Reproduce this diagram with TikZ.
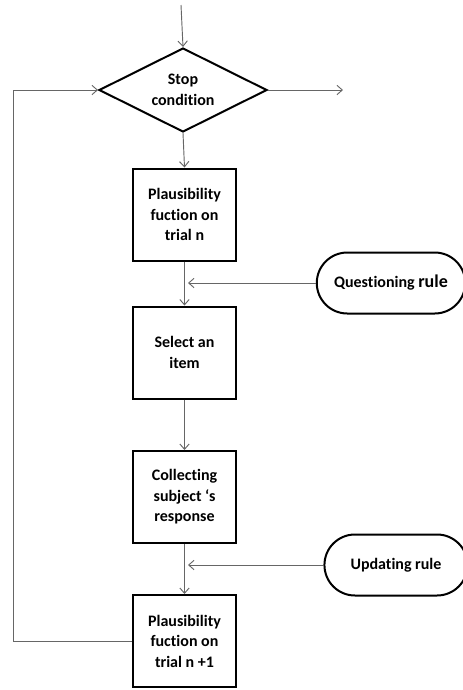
\documentclass[tikz,border=0pt]{standalone}
\usepackage{fontspec}
\setmainfont[Ligatures=NoCommon]{Carlito}
\usepackage{xcolor}
\usepackage{tikz}
\usetikzlibrary{shapes,arrows.meta,positioning}

\begin{document}
\begin{tikzpicture}[x=0.75pt,y=-0.75pt,
    font=\fontsize{12}{15.4}\selectfont\bfseries,
    box/.style={draw,line width=1.5pt,minimum width=77pt,minimum height=69pt,align=center,inner sep=2pt},
    cond/.style={draw,diamond,aspect=2,line width=1.5pt,minimum width=126pt,minimum height=63pt,align=center,inner sep=0pt},
    rulebox/.style={draw,rounded rectangle,line width=1.5pt,minimum height=45.75pt,align=center},
    flow/.style={-{Straight Barb[length=4pt,width=7pt]},black!60,line width=0.7pt}]
    \useasboundingbox (0,0) rectangle (462,690);

    % Decision
    \node[cond] (stop) at (183,90) {Stop\\condition};
    \coordinate (start) at (181,5);
    \coordinate (exit) at (343,90);

    % Trial steps
    \node[box] (plaus) at (184.5,214.5) {Plausibility\\fuction on\\trial n};
    \node[box] (select) at (184.5,352.5) {Select an\\item};
    \node[box] (collect) at (184.5,497) {Collecting\\subject `s\\response};
    \node[box] (plausnext) at (184.5,641) {Plausibility\\fuction on\\trial n +1};

    % Rules
    \node[rulebox,minimum width=118pt] (qrule) at (391,283) {Questioning {\fontsize{13.5}{15}\selectfont rule}};
    \node[rulebox,minimum width=114pt] (urule) at (396,565) {Updating rule};
    \coordinate (qin) at (188,283);
    \coordinate (uin) at (188,565);
    \coordinate (loop) at (13,641);

    % Connectors
    \draw[flow] (start) -- (stop.north);
    \draw[flow] (stop.east) -- (exit);
    \draw[flow] (stop.south) -- (plaus.north);
    \draw[flow] (plaus.south) -- (select.north);
    \draw[flow] (select.south) -- (collect.north);
    \draw[flow] (collect.south) -- (plausnext.north);
    \draw[flow] (qrule.west) -- (qin);
    \draw[flow] (urule.west) -- (uin);
    \draw[flow] (plausnext.west) -- (loop) |- (stop.west);
\end{tikzpicture}
\end{document}
